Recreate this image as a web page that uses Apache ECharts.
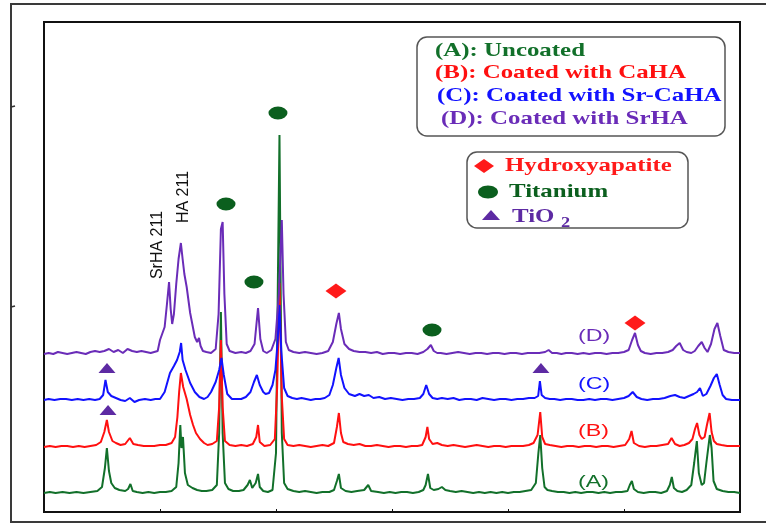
<!DOCTYPE html>
<html>
<head>
<meta charset="utf-8">
<script src="https://cdn.jsdelivr.net/npm/echarts@6/dist/echarts.min.js"></script>
<style>
html,body{margin:0;padding:0;background:#fff;}
#chart{width:766px;height:525px;}
</style>
</head>
<body>
<div id="chart"></div>
<script>
// 2-theta range (deg) and ticks
const xMin = 20, xMax = 80, xStep = 10;
// vertical offsets of stacked patterns (a.u.)
const seriesNames = ['(A): Uncoated', '(B): Coated with CaHA', '(C): Coated with Sr-CaHA', '(D): Coated with SrHA'];
const shortNames = ['(A)', '(B)', '(C)', '(D)'];
const baseOffsets = [19, 65, 112, 158];

// [2theta, relative intensity]
const patternA = [[20.0,0],[20.5,1],[21.0,0],[21.6,1],[22.2,0],[22.8,1],[23.4,0],[24.0,1],[24.6,2],[25.0,6],[25.25,25],[25.42,45],[25.6,22],[25.8,10],[26.1,5],[26.5,3],[27.0,2],[27.25,4],[27.45,9],[27.65,2],[28.0,1],[28.5,0],[29.0,1],[29.5,0],[30.0,1],[30.5,1],[31.0,2],[31.4,6],[31.6,30],[31.75,68],[31.85,45],[31.98,56],[32.15,20],[32.4,8],[32.8,5],[33.2,3],[33.6,2],[34.0,2],[34.5,3],[34.9,8],[35.1,60],[35.25,181],[35.4,60],[35.6,10],[35.9,4],[36.3,2],[36.8,2],[37.2,3],[37.55,8],[37.75,13],[37.95,5],[38.25,10],[38.45,19],[38.6,6],[38.9,2],[39.3,1],[39.7,3],[40.0,40],[40.3,358],[40.5,60],[40.7,10],[41.0,4],[41.5,2],[42.0,1],[42.5,2],[43.0,1],[43.5,0],[44.0,1],[44.6,1],[45.0,3],[45.25,12],[45.42,19],[45.6,5],[46.0,2],[46.5,1],[47.0,2],[47.6,3],[47.95,8],[48.2,2],[48.8,1],[49.3,0],[49.8,1],[50.3,0],[50.8,1],[51.3,1],[51.8,0],[52.3,1],[52.7,3],[52.9,8],[53.1,19],[53.3,5],[53.6,3],[54.0,4],[54.3,6],[54.6,3],[55.0,2],[55.5,1],[56.0,2],[56.5,1],[57.0,0],[57.5,1],[58.0,0],[58.5,1],[59.0,0],[59.5,1],[60.0,0],[60.5,1],[61.0,1],[61.5,2],[62.0,3],[62.4,10],[62.62,40],[62.78,58],[62.95,25],[63.15,6],[63.4,3],[63.8,2],[64.3,1],[64.8,1],[65.3,0],[65.8,1],[66.3,0],[66.8,1],[67.3,1],[67.8,0],[68.3,1],[68.8,0],[69.3,1],[69.8,1],[70.3,2],[70.5,8],[70.68,12],[70.85,4],[71.2,1],[71.7,0],[72.2,1],[72.7,1],[73.2,0],[73.7,2],[73.95,8],[74.12,16],[74.3,5],[74.6,2],[75.0,1],[75.4,3],[75.8,8],[76.05,30],[76.28,52],[76.45,20],[76.7,8],[76.9,10],[77.1,30],[77.4,58],[77.55,45],[77.72,12],[78.0,4],[78.5,2],[79.0,1],[79.5,1],[80.0,0]];

const patternB = [[20.0,0],[20.5,1],[21.0,0],[21.5,1],[22.0,1],[22.5,0],[23.0,1],[23.5,0],[24.0,1],[24.5,2],[24.9,5],[25.2,15],[25.42,27],[25.6,15],[25.9,6],[26.2,4],[26.6,2],[27.0,3],[27.4,9],[27.7,3],[28.1,2],[28.6,1],[29.0,1],[29.5,1],[30.0,2],[30.5,2],[31.0,4],[31.3,10],[31.5,30],[31.65,55],[31.8,74],[32.0,60],[32.3,48],[32.6,32],[32.85,22],[33.1,14],[33.45,8],[33.8,4],[34.1,2],[34.5,3],[34.9,6],[35.1,40],[35.25,107],[35.4,40],[35.6,6],[36.0,2],[36.5,1],[37.0,2],[37.5,1],[38.0,3],[38.3,10],[38.45,22],[38.6,5],[39.0,1],[39.5,2],[39.9,8],[40.1,60],[40.3,164],[40.5,50],[40.7,8],[41.0,2],[41.5,1],[42.0,2],[42.5,1],[43.0,0],[43.5,1],[44.0,2],[44.5,1],[45.0,4],[45.25,20],[45.42,34],[45.6,14],[45.8,5],[46.2,3],[46.7,2],[47.2,3],[47.7,1],[48.2,1],[48.7,2],[49.2,1],[49.7,0],[50.2,1],[50.7,1],[51.2,0],[51.7,1],[52.2,1],[52.6,2],[52.9,10],[53.05,20],[53.2,8],[53.5,3],[53.9,4],[54.3,2],[54.8,1],[55.3,2],[55.8,1],[56.3,0],[56.8,1],[57.3,2],[57.8,1],[58.3,0],[58.8,1],[59.3,1],[59.8,0],[60.3,1],[60.8,1],[61.3,1],[61.8,2],[62.2,4],[62.55,12],[62.78,35],[62.95,10],[63.2,3],[63.6,2],[64.1,1],[64.6,0],[65.1,1],[65.6,1],[66.1,0],[66.6,1],[67.1,1],[67.6,0],[68.1,1],[68.6,1],[69.1,0],[69.6,1],[70.1,2],[70.45,8],[70.65,16],[70.85,4],[71.3,1],[71.8,0],[72.3,1],[72.8,1],[73.3,2],[73.8,3],[74.1,9],[74.4,3],[74.8,1],[75.2,2],[75.6,4],[75.9,8],[76.12,18],[76.3,24],[76.5,12],[76.7,8],[76.95,10],[77.15,22],[77.38,34],[77.55,15],[77.75,6],[78.0,3],[78.4,2],[78.9,1],[79.4,1],[80.0,1]];

const patternC = [[20.0,0],[20.4,1],[20.9,0],[21.4,1],[21.9,1],[22.4,0],[22.9,1],[23.4,0],[23.9,1],[24.4,0],[24.8,1],[25.1,5],[25.3,20],[25.5,8],[25.8,4],[26.2,2],[26.6,0],[27.0,-1],[27.4,2],[27.8,-2],[28.2,0],[28.7,1],[29.2,0],[29.6,1],[30.0,1],[30.4,8],[30.86,27],[31.2,34],[31.47,40],[31.7,48],[31.82,57],[31.95,40],[32.2,30],[32.6,17],[33.0,8],[33.4,3],[33.8,1],[34.1,3],[34.4,8],[34.8,18],[35.1,30],[35.3,42],[35.5,25],[35.8,6],[36.2,1],[36.6,1],[37.0,1],[37.4,3],[37.8,8],[38.1,18],[38.35,25],[38.6,15],[38.9,8],[39.1,6],[39.4,7],[39.7,15],[39.95,30],[40.15,60],[40.3,95],[40.45,50],[40.7,12],[41.0,4],[41.4,2],[41.8,1],[42.2,2],[42.6,1],[43.0,0],[43.4,1],[43.8,1],[44.2,2],[44.6,5],[44.9,15],[45.2,32],[45.4,42],[45.6,25],[45.9,12],[46.3,6],[46.8,4],[47.2,6],[47.6,4],[48.0,5],[48.4,2],[48.9,3],[49.4,1],[49.9,2],[50.4,1],[50.9,0],[51.4,1],[51.9,1],[52.4,2],[52.7,6],[52.95,15],[53.2,6],[53.5,2],[53.9,1],[54.3,2],[54.8,1],[55.3,2],[55.8,0],[56.3,1],[56.8,1],[57.3,0],[57.8,2],[58.3,1],[58.8,0],[59.3,1],[59.8,1],[60.3,0],[60.8,1],[61.3,1],[61.8,2],[62.3,2],[62.6,4],[62.75,19],[62.9,5],[63.2,2],[63.6,1],[64.0,1],[64.5,0],[65.0,1],[65.5,1],[66.0,0],[66.5,0],[67.0,1],[67.5,0],[68.0,1],[68.5,1],[69.0,0],[69.5,1],[70.0,2],[70.4,4],[70.75,8],[71.1,3],[71.5,1],[72.0,0],[72.5,1],[73.0,1],[73.5,2],[74.0,4],[74.4,5],[74.8,3],[75.2,2],[75.6,4],[76.0,6],[76.3,8],[76.55,12],[76.8,4],[77.1,6],[77.45,14],[77.75,22],[78.0,26],[78.25,15],[78.5,5],[78.8,1],[79.3,0],[79.7,0],[80.0,0]];

const patternD = [[20.0,0],[20.4,1],[20.8,0],[21.2,2],[21.6,1],[22.0,0],[22.4,1],[22.8,2],[23.2,1],[23.6,0],[24.0,2],[24.4,3],[24.8,2],[25.2,3],[25.6,5],[26.0,2],[26.4,4],[26.8,1],[27.2,5],[27.6,3],[28.0,2],[28.4,3],[28.8,2],[29.2,1],[29.5,2],[29.8,3],[30.0,14],[30.4,27],[30.6,50],[30.78,72],[30.92,45],[31.05,30],[31.2,40],[31.4,70],[31.6,95],[31.8,111],[31.95,95],[32.1,80],[32.3,67],[32.6,41],[33.0,17],[33.2,12],[33.36,16],[33.5,8],[33.7,3],[34.0,2],[34.4,1],[34.8,5],[35.05,40],[35.25,125],[35.4,132],[35.55,60],[35.75,10],[36.0,3],[36.5,1],[37.0,2],[37.4,1],[37.8,3],[38.15,10],[38.45,46],[38.65,15],[38.9,3],[39.2,1],[39.6,4],[39.95,15],[40.25,60],[40.5,134],[40.65,60],[40.85,12],[41.1,4],[41.5,2],[42.0,1],[42.5,2],[43.0,1],[43.5,0],[44.0,1],[44.5,3],[44.9,12],[45.2,30],[45.42,41],[45.6,25],[45.9,10],[46.3,5],[46.7,3],[47.2,2],[47.7,2],[48.2,1],[48.7,2],[49.2,0],[49.7,1],[50.2,1],[50.7,0],[51.2,1],[51.7,1],[52.2,0],[52.7,2],[53.05,5],[53.35,9],[53.6,3],[53.9,1],[54.2,1],[54.7,0],[55.2,1],[55.7,2],[56.2,1],[56.7,0],[57.2,1],[57.7,1],[58.2,0],[58.7,1],[59.2,1],[59.7,0],[60.2,1],[60.7,1],[61.2,0],[61.7,1],[62.2,1],[62.7,1],[63.2,2],[63.5,4],[63.8,1],[64.2,1],[64.6,0],[65.0,1],[65.5,1],[66.0,0],[66.5,1],[67.0,0],[67.5,1],[68.0,1],[68.5,0],[69.0,1],[69.5,1],[70.0,2],[70.4,4],[70.7,14],[70.95,21],[71.2,9],[71.45,3],[71.8,1],[72.3,0],[72.8,1],[73.3,1],[73.8,2],[74.2,4],[74.5,8],[74.8,11],[75.1,4],[75.4,2],[75.8,1],[76.1,3],[76.4,8],[76.7,12],[76.95,6],[77.2,2],[77.5,10],[77.8,25],[78.05,31],[78.3,18],[78.6,4],[79.0,2],[79.5,1],[80.0,1]];

// phase markers [2theta, vertical position (a.u.)]
const titaniumMarks = [[35.69,308],[40.17,399],[38.10,230],[53.45,182]];
const hydroxyapatiteMarks = [[45.17,221],[70.95,189]];
const tio2Marks = [[25.43,144],[25.52,102],[62.84,144]];

// peak annotations
const peakLabels = ['SrHA 211', 'HA 211'];

const colors = ['#12702a', '#ff1010', '#1212ff', '#6a2cb8'];
const markerGreen = '#0b5f1e';
const markerRed = '#ff1a1a';
const markerPurple = '#5d2aa3';

const patterns = [patternA, patternB, patternC, patternD];

const chart = echarts.init(document.getElementById('chart'), null, {renderer: 'canvas'});

const lineSeries = patterns.map((p, i) => ({
  name: seriesNames[i],
  type: 'line',
  showSymbol: false,
  symbol: 'none',
  data: p.map(d => [d[0], d[1] + baseOffsets[i]]),
  lineStyle: {color: colors[i], width: 2},
  itemStyle: {color: colors[i]},
  z: 2 + i,
  silent: true
}));

const serifBold = 'bold 19px "Liberation Serif", "Times New Roman", serif';
const stretch = 1.31;
function legendText(txt, x, y, color, size) {
  return {type: 'text', x: x, y: y, scaleX: stretch, z: 100,
    style: {text: txt, font: size ? ('bold ' + size + 'px "Liberation Serif", serif') : serifBold, fill: color,
      textAlign: 'left', textVerticalAlign: 'middle', align: 'left', verticalAlign: 'middle'}};
}
function sansText(txt, x, y, color, sx, rot) {
  const el = {type: 'text', x: x, y: y, z: 100,
    style: {text: txt, font: '16px "Liberation Sans", Arial, sans-serif', fill: color,
      textAlign: rot ? 'center' : 'left', textVerticalAlign: 'middle', align: rot ? 'center' : 'left', verticalAlign: 'middle'}};
  if (sx) el.scaleX = sx;
  if (rot) el.rotation = rot;
  return el;
}

const graphics = [
  // outer image frame
  {type: 'rect', shape: {x: 11, y: 4, width: 770, height: 518}, style: {fill: 'none', stroke: '#3a3a3a', lineWidth: 2}, z: 50},
  {type: 'line', shape: {x1: 11, y1: 107, x2: 15, y2: 106}, style: {stroke: '#333', lineWidth: 1.5}, z: 50},
  {type: 'line', shape: {x1: 11, y1: 307, x2: 15, y2: 306}, style: {stroke: '#333', lineWidth: 1.5}, z: 50},
  // legend box 1
  {type: 'rect', shape: {x: 417, y: 37, width: 308, height: 99, r: 10}, style: {fill: '#fff', stroke: '#555', lineWidth: 1.5}, z: 90},
  legendText(seriesNames[0], 435, 51, colors[0]),
  legendText(seriesNames[1], 435, 73, colors[1]),
  legendText(seriesNames[2], 437, 96, colors[2]),
  legendText(seriesNames[3], 441, 119, colors[3]),
  // legend box 2
  {type: 'rect', shape: {x: 467, y: 152, width: 221, height: 76, r: 10}, style: {fill: '#fff', stroke: '#555', lineWidth: 1.5}, z: 90},
  legendText('Hydroxyapatite', 505, 166, markerRed),
  legendText('Titanium', 509, 192, markerGreen),
  legendText('TiO', 512, 217, markerPurple),
  legendText('2', 561, 223, markerPurple, 14),
  // peak annotations
  sansText(peakLabels[0], 158, 245, '#111', null, Math.PI / 2),
  sansText(peakLabels[1], 184, 197, '#111', null, Math.PI / 2),
  // pattern tags
  sansText(shortNames[3], 578, 337, colors[3], 1.45),
  sansText(shortNames[2], 578, 385, colors[2], 1.45),
  sansText(shortNames[1], 578, 432, colors[1], 1.45),
  sansText(shortNames[0], 578, 483, colors[0], 1.45)
];

// legend markers in box 2 (drawn as shapes)
graphics.push({type: 'polygon', shape: {points: [[474,166],[484,159],[494,166],[484,173]]}, style: {fill: markerRed}, z: 100});
graphics.push({type: 'ellipse', shape: {cx: 488, cy: 192, rx: 10, ry: 6.5}, style: {fill: markerGreen}, z: 100});
graphics.push({type: 'polygon', shape: {points: [[482,220],[491,210],[500,220]]}, style: {fill: markerPurple}, z: 100});

const option = {
  animation: false,
  backgroundColor: '#fff',
  grid: {left: 44, top: 22, right: 26, bottom: 13, show: true, borderColor: '#111', borderWidth: 2, backgroundColor: 'transparent'},
  xAxis: {
    type: 'value', min: xMin, max: xMax, interval: xStep,
    axisLine: {show: true, onZero: false, lineStyle: {color: '#111', width: 2}},
    axisTick: {show: true, inside: true, length: 3, lineStyle: {color: '#111', width: 1}},
    axisLabel: {show: false}, splitLine: {show: false}
  },
  yAxis: {
    type: 'value', min: 0, max: 490,
    axisLine: {show: true, lineStyle: {color: '#111', width: 2}},
    axisTick: {show: false}, axisLabel: {show: false}, splitLine: {show: false}
  },
  series: lineSeries.concat([
    {name: 'Titanium', type: 'scatter', data: titaniumMarks, symbol: 'circle', symbolSize: [19, 13], itemStyle: {color: markerGreen, opacity: 1}, z: 20, silent: true},
    {name: 'Hydroxyapatite', type: 'scatter', data: hydroxyapatiteMarks, symbol: 'diamond', symbolSize: [21, 15], itemStyle: {color: markerRed, opacity: 1}, z: 20, silent: true},
    {name: 'TiO2', type: 'scatter', data: tio2Marks, symbol: 'triangle', symbolSize: [17, 10], itemStyle: {color: markerPurple, opacity: 1}, z: 20, silent: true}
  ]),
  graphic: graphics
};
chart.setOption(option);
</script>
</body>
</html>
